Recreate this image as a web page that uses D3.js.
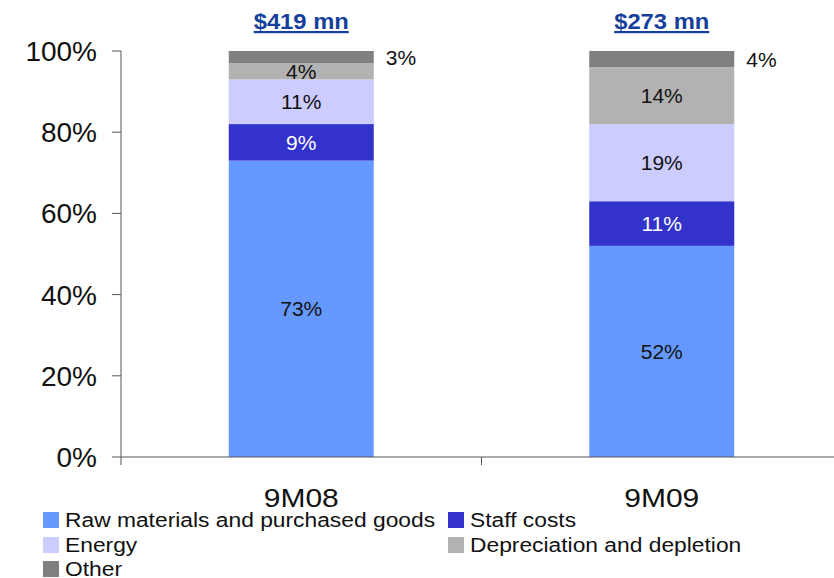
<!DOCTYPE html>
<html>
<head>
<meta charset="utf-8">
<script src="https://cdn.jsdelivr.net/npm/d3@7"></script>
<style>
  body { margin: 0; background: #fff; }
  text { font-family: "Liberation Sans", Arial, sans-serif; }
</style>
</head>
<body>
<script>
var W = 834, H = 578;

var categories = ["9M08", "9M09"];
var totals = ["$419 mn", "$273 mn"];
var seriesNames = ["Raw materials and purchased goods", "Staff costs", "Energy", "Depreciation and depletion", "Other"];
var rawMaterials = [73, 52];
var staffCosts = [9, 11];
var energy = [11, 19];
var depreciation = [4, 14];
var other = [3, 4];
var colors = ["#6699FF", "#3333CC", "#CCCCFF", "#B2B2B2", "#808080"];
var yTicks = [0, 20, 40, 60, 80, 100];

var svg = d3.select("body").append("svg")
  .attr("width", W).attr("height", H);

// widen text horizontally (source render is a bit stretched)
function stretch(sel, k) {
  sel.each(function() {
    var len = this.getComputedTextLength();
    d3.select(this).attr("textLength", len * k).attr("lengthAdjust", "spacingAndGlyphs");
  });
}

var x = d3.scaleBand().domain(categories).range([121, 842]);
var y = d3.scaleLinear().domain([0, 100]).range([457, 51]);
var barW = 145;

var rows = categories.map(function(c, i) {
  return { cat: c, s0: rawMaterials[i], s1: staffCosts[i], s2: energy[i], s3: depreciation[i], s4: other[i] };
});
var stack = d3.stack().keys(["s0", "s1", "s2", "s3", "s4"])(rows);

// y axis
svg.append("line").attr("x1", 121).attr("x2", 121).attr("y1", 51).attr("y2", 465)
  .attr("stroke", "#555");
svg.selectAll(".ytick").data(yTicks).enter().append("line")
  .attr("x1", 112).attr("x2", 121)
  .attr("y1", function(d) { return y(d); }).attr("y2", function(d) { return y(d); })
  .attr("stroke", "#555");
svg.selectAll(".ylab").data(yTicks).enter().append("text")
  .attr("x", 97).attr("y", function(d) { return y(d) + 10; })
  .attr("text-anchor", "end").attr("font-size", 28).attr("fill", "#111")
  .text(function(d) { return d + "%"; });

// bars
var g = svg.selectAll(".series").data(stack).enter().append("g")
  .attr("fill", function(d, i) { return colors[i]; });
g.selectAll("rect").data(function(d) { return d; }).enter().append("rect")
  .attr("x", function(d) { return x(d.data.cat) + (x.bandwidth() - barW) / 2; })
  .attr("width", barW)
  .attr("y", function(d) { return y(d[1]); })
  .attr("height", function(d) { return y(d[0]) - y(d[1]); });

// x axis
svg.append("line").attr("x1", 121).attr("x2", 842).attr("y1", 457).attr("y2", 457)
  .attr("stroke", "#555");
svg.append("line").attr("x1", x(categories[1])).attr("x2", x(categories[1]))
  .attr("y1", 457).attr("y2", 465).attr("stroke", "#555");
svg.selectAll(".xlab").data(categories).enter().append("text")
  .attr("x", function(d) { return x(d) + x.bandwidth() / 2; })
  .attr("y", 507).attr("text-anchor", "middle").attr("font-size", 25).attr("fill", "#111")
  .text(function(d) { return d; })
  .call(stretch, 1.2);

// segment labels
stack.forEach(function(layer, si) {
  layer.forEach(function(d) {
    var v = d[1] - d[0];
    var cx = x(d.data.cat) + x.bandwidth() / 2;
    var outside = si === 4;
    var cy = (y(d[0]) + y(d[1])) / 2;
    svg.append("text")
      .attr("x", outside ? cx + barW / 2 + 12 : cx)
      .attr("y", cy + 7.5)
      .attr("text-anchor", outside ? "start" : "middle")
      .attr("font-size", 21)
      .attr("fill", si === 1 ? "#fff" : "#111")
      .text(v + "%");
  });
});

// totals
svg.selectAll(".tot").data(totals).enter().append("text")
  .attr("x", function(d, i) { return x(categories[i]) + x.bandwidth() / 2; })
  .attr("y", 29).attr("text-anchor", "middle")
  .attr("font-size", 22).attr("font-weight", "bold").attr("fill", "#14409C")
  .attr("text-decoration", "underline")
  .text(function(d) { return d; })
  .call(stretch, 1.08);

// legend
var legPos = [[43, 527], [448, 527], [43, 552], [448, 552], [43, 576]];
var leg = svg.selectAll(".leg").data(seriesNames).enter().append("g")
  .attr("transform", function(d, i) { return "translate(" + legPos[i][0] + "," + legPos[i][1] + ")"; });
leg.append("rect").attr("x", 0).attr("y", -15).attr("width", 16).attr("height", 16)
  .attr("fill", function(d, i) { return colors[i]; });
leg.append("text").attr("x", 22).attr("y", 0).attr("font-size", 20).attr("fill", "#111")
  .text(function(d) { return d; })
  .call(stretch, 1.14);
</script>
</body>
</html>
